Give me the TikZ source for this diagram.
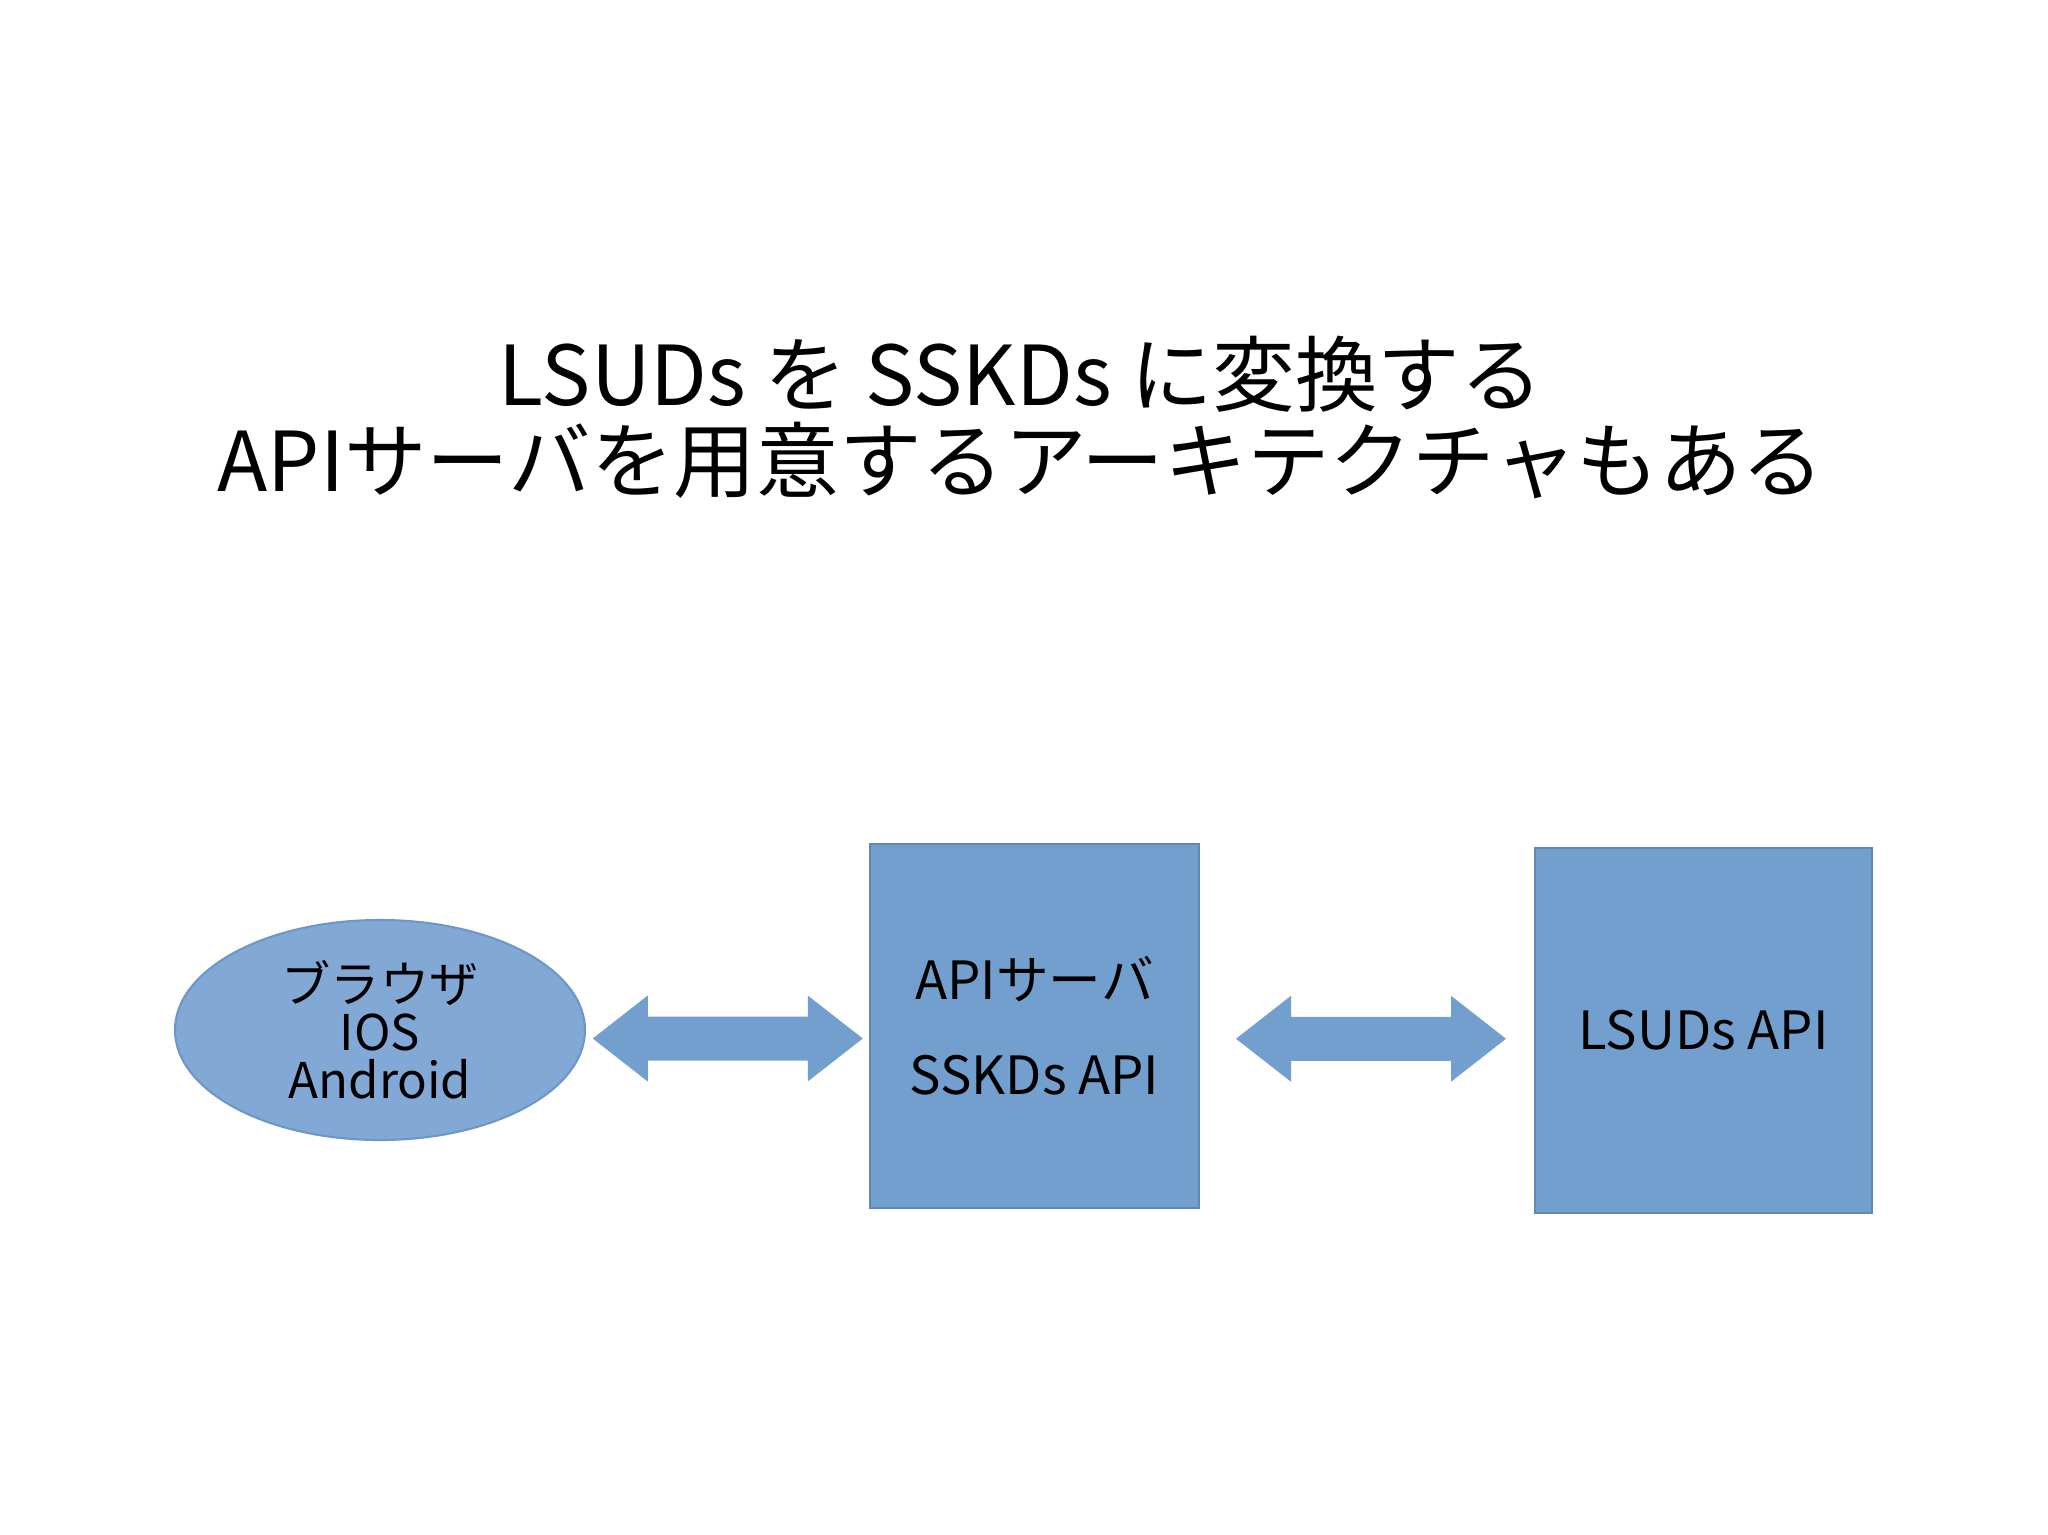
\documentclass[tikz,border=0pt]{standalone}
\usepackage{fontspec}
\setmainfont{Noto Sans CJK JP}
\usetikzlibrary{calc, shapes.geometric}
\definecolor{ovalblue}{HTML}{82A8D6}
\definecolor{ovalline}{HTML}{6E96C6}
\definecolor{boxblue}{HTML}{739FCF}

\begin{document}
\begin{tikzpicture}[
  titletext/.style={anchor=base, font=\fontsize{23.5}{24}\selectfont},
  client/.style={ellipse, fill=ovalblue, draw=ovalline, line width=0.6pt,
    minimum width=4.1cm, minimum height=2.2cm, inner sep=0pt, align=center,
    font=\fontsize{14}{13.6}\selectfont},
  apibox/.style={rectangle, fill=boxblue, draw=boxblue!85!black, line width=0.3pt,
    inner sep=0pt, align=center, font=\fontsize{15}{15}\selectfont},
  blockarrow/.style={fill=boxblue}]

  % Canvas
  \useasboundingbox[fill=white] (0,0) rectangle (20.48,-15.35);

  % ---- Title ----
  \node[titletext] (title1) at (10.21,-4.05) {LSUDs を SSKDs に変換する};
  \node[titletext] (title2) at (10.21,-4.91) {APIサーバを用意するアーキテクチャもある};

  % ---- Nodes ----
  \node[client] (browser) at (3.80,-10.30) {ブラウザ\\IOS\\Android};
  \node[apibox, minimum width=3.29cm, minimum height=3.64cm] (server)
    at (10.345,-10.26) {APIサーバ\\[12pt]SSKDs API};
  \node[apibox, minimum width=3.37cm, minimum height=3.65cm] (lsuds)
    at (17.035,-10.305) {LSUDs API};

  % ---- Block arrows ----
  \coordinate (arrA) at ($(browser.east)!0.5!(server.west)+(0,-0.105)$);
  \coordinate (arrB) at ($(server.east)!0.5!(lsuds.west)+(0.04,-0.105)$);

  \fill[blockarrow] ($(arrA)+(-1.35,0)$) -- ++(0.55,0.43) -- ++(0,-0.21)
    -- ++(1.6,0) -- ++(0,0.21) -- ++(0.55,-0.43) -- ++(-0.55,-0.43)
    -- ++(0,0.21) -- ++(-1.6,0) -- ++(0,-0.21) -- cycle;
  \fill[blockarrow] ($(arrB)+(-1.35,0)$) -- ++(0.55,0.43) -- ++(0,-0.21)
    -- ++(1.6,0) -- ++(0,0.21) -- ++(0.55,-0.43) -- ++(-0.55,-0.43)
    -- ++(0,0.21) -- ++(-1.6,0) -- ++(0,-0.21) -- cycle;

\end{tikzpicture}
\end{document}
